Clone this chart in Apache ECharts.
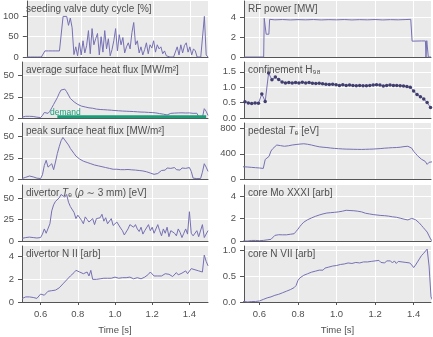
<!DOCTYPE html>
<html>
<head>
<meta charset="utf-8">
<script src="https://cdn.jsdelivr.net/npm/echarts@6/dist/echarts.min.js"></script>
<style>
html, body { margin: 0; padding: 0; background: #fff; }
#chart { width: 433px; height: 337px; }
</style>
</head>
<body>
<div id="chart"></div>
<script>
// sampling of most signals: 0.50 s .. 1.50 s every 10 ms
var t0 = 0.50, dt = 0.01, nSamples = 101;
// H98 is sampled more coarsely
var h98Start = 0.525, h98Step = 0.0175;

var xTicks = [0.6, 0.8, 1.0, 1.2, 1.4];

var seedingValve = [0,0,0,0,0,0,0,0,0,0,
  15,15,15,15,15,15,15,15,15,15,
  100,100,100,78,96,72,6,25,3,35,
  5,40,10,28,65,8,70,30,45,58,
  5,50,12,65,20,45,3,18,40,70,
  15,55,30,48,10,25,35,20,60,85,
  30,40,10,25,5,18,35,8,30,22,
  40,12,30,20,25,8,15,3,0,0,
  0,0,0,25,5,30,10,28,35,12,
  25,5,20,15,0,0,0,0,100,5,
  0];

var avgHeatFlux = [1,1.5,2,2.2,2,2.3,1.8,1.5,1,0.8,
  0.5,3,6.5,5,5.5,8,12,16,20,24,
  29,33,35,34,31,27,23,21,19,17,
  16,15,14,13.5,13,12.5,12,11.5,11.5,11,
  10.5,10.8,10,10.5,9.8,10.2,9.5,9.8,9.2,9.5,
  8.8,9,8.5,8.8,8.2,8.5,8,8.3,7.8,8,
  7.6,7.8,7.3,7.5,7,7.3,6.9,7.1,6.6,6.8,
  6.4,6.5,6,5.6,5.2,5,4.5,4,3.6,4.5,
  5.5,6.2,5.8,6.5,6,6.6,6.1,6.5,5.9,6.4,
  6,6.3,5.5,5.8,5.6,1.5,0.5,0.5,11,8,
  3];

var demandTime = [0.69, 1.49];
var demandValue = [1.5, 1.5];

var peakHeatFlux = [0.5,1,2,3,3.5,3.2,2.5,1.5,1,0.8,
  0.5,5,16,22,14,13,18,11,20,30,
  38,45,49,46,44,40,36,33,30,27,
  25,23.5,22,21,20.5,19.5,18.5,18,17.5,16.5,
  16.5,15.5,16,14.5,14.5,13.5,13.5,12.5,12,11.5,
  11,11.5,10.5,11,10,11,10.2,11.2,10,10.8,
  9.8,10.5,9.5,10,9,9.5,8.5,8.5,7.5,7,
  6,5.5,5,6.5,8,10,11.5,10.5,13,11,
  12.5,10.5,13.5,11,12,10.5,13,11,12.5,10.5,
  13.5,9,1,0.5,0.5,0.5,0.5,8,18,14,
  9];

var divertorTe = [3,3.5,4,4,4.5,4,4,3.5,3.5,3,
  4,8,14,9,7,20,35,42,46,44,
  50,54,56,51,54,45,40,38,33,26,
  30,29,24,20,28,25,22,24,26,19,
  26,24,27,31,23,27,20,22,26,18,
  16,22,20,15,12,7,9,14,19,21,
  16,19,14,11,16,8,12,14,19,12,
  16,9,14,19,12,6,14,9,16,5,
  12,14,9,6,14,10,4,9,14,8,
  34,9,6,8,12,5,7,19,4,3,
  12];

var divertorNII = [0.3,0.42,0.45,0.48,0.45,0.42,0.4,0.35,0.32,0.45,
  0.7,0.78,0.6,0.75,0.95,0.85,1.0,1.1,1.05,1.2,
  1.25,1.4,1.6,1.75,1.95,2.1,2.3,2.45,2.6,2.8,
  2.85,2.65,2.6,2.5,2.6,2.65,2.3,2.8,2.0,2.05,
  2.0,2.1,2.05,2.0,2.1,2.05,2.1,2.15,2.1,2.15,
  2.2,2.15,2.1,2.05,2.15,2.2,2.15,2.1,2.2,2.1,
  2.05,2.1,2.15,2.1,2.05,2.15,2.2,2.3,2.45,2.65,
  2.55,2.3,2.2,2.3,2.4,2.3,2.35,2.5,2.4,2.45,
  2.55,2.25,2.4,2.6,2.4,2.45,2.55,2.4,2.75,2.5,
  2.6,2.95,2.9,2.85,2.9,2.75,2.8,2.65,4.15,3.6,
  3.2];

var rfTime = [0.52,0.622,0.625,0.632,0.635,0.649,0.653,0.68,0.72,0.76,0.80,0.84,0.88,0.92,0.96,1.00,
  1.04,1.08,1.12,1.16,1.20,1.24,1.28,1.32,1.36,1.385,1.392,1.40,1.44,1.461,1.464,1.468,1.471,1.476,1.49];
var rfPower = [0,0,3.9,4.0,2.3,2.3,3.8,3.75,3.78,3.74,3.77,3.75,3.78,3.74,3.77,3.75,
  3.78,3.74,3.77,3.75,3.78,3.74,3.77,3.75,3.78,3.8,1.6,1.6,1.62,1.62,0,1.65,1.65,0,0];

var h98 = [0.53,0.49,0.47,0.49,0.48,0.78,0.54,1.46,1.24,1.33,
  1.25,1.17,1.14,1.15,1.14,1.15,1.14,1.16,1.14,1.15,
  1.13,1.12,1.13,1.11,1.10,1.09,1.10,1.08,1.06,1.08,
  1.06,1.07,1.06,1.05,1.06,1.05,1.05,1.06,1.07,1.08,
  1.07,1.04,1.06,1.07,1.06,1.06,1.05,1.04,1.02,1.0,
  0.88,0.76,0.69,0.62,0.50,0.34];

var pedestalTe = [196,195,194,192,190,187,185,183,180,178,
  175,172,168,310,320,360,445,485,510,540,
  548,530,525,520,535,528,545,540,552,548,
  560,555,568,560,565,552,548,540,532,525,
  520,512,515,505,508,500,498,492,495,486,
  488,482,485,478,482,475,480,474,478,472,
  477,471,476,470,476,472,478,474,480,476,
  484,480,488,484,494,490,500,494,503,498,
  506,500,510,505,520,515,528,520,515,490,
  440,405,370,340,315,295,280,232,265,275,
  275];

var coreMo = [0,0,0,0,0,0.02,0.05,0.08,0.05,0.03,
  0.03,0.04,0.05,0.08,0.1,0.12,0.15,0.25,0.5,0.58,
  0.56,0.58,0.55,0.57,0.55,0.58,0.6,0.62,0.65,0.85,
  1.06,1.3,1.5,1.68,1.8,1.9,1.98,2.06,2.14,2.2,
  2.27,2.32,2.36,2.42,2.45,2.5,2.47,2.53,2.5,2.56,
  2.55,2.6,2.57,2.66,2.62,2.74,2.68,2.72,2.66,2.7,
  2.64,2.66,2.58,2.6,2.52,2.48,2.44,2.42,2.38,2.36,
  2.34,2.32,2.3,2.28,2.3,2.26,2.27,2.22,2.2,2.16,
  2.14,2.12,2.06,2.04,1.98,1.95,1.9,1.88,1.95,2.02,
  2.0,1.9,1.75,1.6,1.4,1.2,1.0,0.8,0.45,0.1,
  0];

var coreN = [0.01,0.01,0.01,0.01,0,0.01,0.01,0.02,0.01,0.02,
  0.02,0.03,0.05,0.06,0.08,0.1,0.1,0.12,0.13,0.14,
  0.15,0.17,0.18,0.19,0.21,0.22,0.24,0.26,0.28,0.32,
  0.42,0.47,0.49,0.52,0.54,0.55,0.57,0.58,0.57,0.6,
  0.6,0.62,0.63,0.62,0.66,0.64,0.68,0.67,0.7,0.69,
  0.71,0.7,0.73,0.71,0.74,0.72,0.76,0.73,0.75,0.74,
  0.77,0.74,0.76,0.75,0.78,0.75,0.78,0.76,0.79,0.77,
  0.8,0.78,0.81,0.77,0.79,0.76,0.8,0.77,0.8,0.76,
  0.8,0.75,0.79,0.76,0.78,0.75,0.77,0.75,0.76,0.72,
  0.67,0.72,0.78,0.84,0.9,0.94,0.97,1.03,0.7,0.1,
  0.02];

var LINE = '#7570b3', DEMAND = '#1b9e77', TEXT = '#505050';
var FONT = '"Liberation Sans", "DejaVu Sans", sans-serif';

var timeBase = [];
for (var i = 0; i < nSamples; i++) timeBase.push(+(t0 + i * dt).toFixed(3));
var h98Time = [];
for (var j = 0; j < h98.length; j++) h98Time.push(+(h98Start + j * h98Step).toFixed(4));

function zip(ts, vs) {
  return vs.map(function (v, k) { return [ts[k], v]; });
}

var colLeft = [22, 244], colWidth = [186, 187];
var colX = [[0.5, 1.5], [0.52, 1.49]];
var rowTop = [1, 62, 123, 185, 246], rowH = 56;

var panels = [
  { col: 0, row: 0, title: 'seeding valve duty cycle [%]', ymax: 138, ticks: [0, 50, 100], dec: 0, lines: [zip(timeBase, seedingValve)] },
  { col: 0, row: 1, title: 'average surface heat flux [MW/m²]', ymax: 66, ticks: [0, 25, 50], dec: 0, lines: [zip(timeBase, avgHeatFlux)] },
  { col: 0, row: 2, title: 'peak surface heat flux [MW/m²]', ymax: 66, ticks: [0, 25, 50], dec: 0, lines: [zip(timeBase, peakHeatFlux)] },
  { col: 0, row: 3, title: 'divertor {i|T}ₑ ({i|ρ} ∼ 3 mm) [eV]', ymax: 65, ticks: [0, 25, 50], dec: 0, lines: [zip(timeBase, divertorTe)] },
  { col: 0, row: 4, title: 'divertor N II [arb]', ymax: 4.95, ticks: [0, 2, 4], dec: 0, lines: [zip(timeBase, divertorNII)] },
  { col: 1, row: 0, title: 'RF power [MW]', ymax: 5.65, ticks: [0, 2, 4], dec: 0, lines: [zip(rfTime, rfPower)] },
  { col: 1, row: 1, title: 'confinement H₉₈', ymax: 1.82, ticks: [0, 0.5, 1, 1.5], dec: 1, lines: [], markers: zip(h98Time, h98) },
  { col: 1, row: 2, title: 'pedestal {i|T}ₑ [eV]', ymax: 890, ticks: [0, 400, 800], dec: 0, lines: [zip(timeBase, pedestalTe)] },
  { col: 1, row: 3, title: 'core Mo XXXI [arb]', ymax: 5.0, ticks: [0, 2, 4], dec: 0, lines: [zip(timeBase, coreMo)] },
  { col: 1, row: 4, title: 'core N VII [arb]', ymax: 1.09, ticks: [0, 0.5, 1], dec: 1, lines: [zip(timeBase, coreN)] }
];

var grids = [], xAxes = [], yAxes = [], series = [], titles = [];

panels.forEach(function (p, k) {
  var bottom = p.row === 4;
  grids.push({
    left: colLeft[p.col], top: rowTop[p.row], width: colWidth[p.col], height: rowH,
    show: true, backgroundColor: '#eaeaea', borderWidth: 0
  });
  xAxes.push({
    type: 'value', gridIndex: k, min: colX[p.col][0], max: colX[p.col][1],
    axisLine: { show: true, onZero: false, lineStyle: { color: '#555', width: 1 } },
    axisTick: { show: bottom, length: 3, customValues: xTicks, lineStyle: { color: '#555' } },
    axisLabel: { show: bottom, customValues: xTicks, margin: 7, color: TEXT, fontSize: 9.5, fontFamily: FONT,
      formatter: function (v) { return v.toFixed(1); } },
    splitLine: { show: true, lineStyle: { color: '#fff', width: 1 } }
  });
  yAxes.push({
    type: 'value', gridIndex: k, min: 0, max: p.ymax,
    axisLine: { show: true, lineStyle: { color: '#555', width: 1 } },
    axisTick: { show: true, length: 4, customValues: p.ticks, lineStyle: { color: '#555' } },
    axisLabel: { customValues: p.ticks, margin: 8, color: TEXT, fontSize: 9.5, fontFamily: FONT,
      formatter: function (v) { return v.toFixed(p.dec); } },
    splitLine: { show: true, lineStyle: { color: '#fff', width: 1 } }
  });
  titles.push({
    text: p.title, left: colLeft[p.col] + 4, top: rowTop[p.row] + 3, padding: 0,
    textStyle: {
      fontSize: 10, fontWeight: 'normal', color: TEXT, fontFamily: FONT,
      rich: { i: { fontStyle: 'italic', fontSize: 10, color: TEXT, fontFamily: FONT } }
    }
  });
  p.lines.forEach(function (d) {
    series.push({
      type: 'line', xAxisIndex: k, yAxisIndex: k, data: d, showSymbol: false,
      lineStyle: { color: LINE, width: 1 }, silent: true
    });
  });
  if (p.markers) {
    series.push({
      type: 'line', xAxisIndex: k, yAxisIndex: k, data: p.markers,
      symbol: 'circle', symbolSize: 3.5, showSymbol: true,
      lineStyle: { color: LINE, width: 1 },
      itemStyle: { color: '#403e6e', borderWidth: 0 }
    });
  }
  if (k === 1) {
    series.push({
      type: 'line', xAxisIndex: k, yAxisIndex: k, data: zip(demandTime, demandValue),
      showSymbol: false, lineStyle: { color: DEMAND, width: 3 }, z: 3
    });
  }
});

var chart = echarts.init(document.getElementById('chart'), null, { renderer: 'canvas' });
chart.setOption({
  animation: false,
  backgroundColor: '#fff',
  title: titles,
  grid: grids,
  xAxis: xAxes,
  yAxis: yAxes,
  series: series,
  graphic: [
    { type: 'text', x: 50, y: 113, style: { text: 'demand', fill: DEMAND, font: '8.5px ' + FONT, verticalAlign: 'middle' }, z: 10 },
    { type: 'text', x: 115, y: 330, style: { text: 'Time [s]', fill: TEXT, font: '9.5px ' + FONT, align: 'center', verticalAlign: 'middle' } },
    { type: 'text', x: 337.5, y: 330, style: { text: 'Time [s]', fill: TEXT, font: '9.5px ' + FONT, align: 'center', verticalAlign: 'middle' } }
  ]
});
</script>
</body>
</html>
